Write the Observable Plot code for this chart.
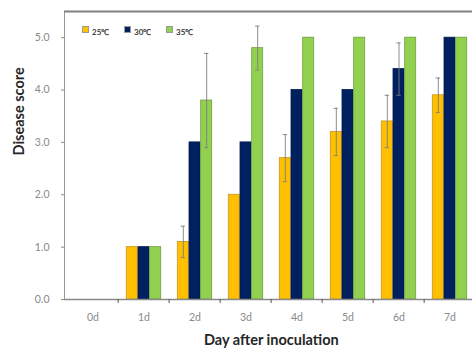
<!DOCTYPE html>
<html><head><meta charset="utf-8">
<script src="https://cdn.jsdelivr.net/npm/d3@7"></script>
<script src="https://cdn.jsdelivr.net/npm/@observablehq/plot@0.6"></script>
<style>
html,body{margin:0;padding:0;overflow:hidden;background:#fff}
#chart{position:relative;width:472px;height:349px;overflow:hidden}
#chart svg{max-width:none !important;height:349px !important}
#legend{position:absolute;left:82px;top:26px;display:flex;font:bold 8px Lato,sans-serif;color:#3a3a3a}
#legend .item{display:flex;align-items:center;width:42px}
#legend .sw{width:5px;height:5px;margin-right:3px;border:0.5px solid #999;position:relative;top:-2px}
</style></head>
<body><div id="chart"></div>
<script>
const days = ["0d","1d","2d","3d","4d","5d","6d","7d"];
const series = ["25℃","30℃","35℃"];
const v25 = [0, 1, 1.1, 2.0, 2.7, 3.2, 3.4, 3.9];
const v30 = [0, 1, 3.0, 3.0, 4.0, 4.0, 4.4, 5.0];
const v35 = [0, 1, 3.8, 4.8, 5.0, 5.0, 5.0, 5.0];
const e25 = [0, 0, 0.3, 0, 0.45, 0.45, 0.5, 0.33];
const e30 = [0, 0, 0, 0, 0, 0, 0.5, 0];
const e35 = [0, 0, 0.9, 0.42, 0, 0, 0, 0];
const yTicks = [0, 1, 2, 3, 4, 5];
const yMax = 5.5;
const xTitle = "Day after inoculation";
const yTitle = "Disease score";

const colors = ["#FFC000", "#002060", "#92D050"];
const strokes = ["#C8961E", "#001a4d", "#6E9E3C"];

const values = [v25, v30, v35];
const errs = [e25, e30, e35];
const rows = [];
series.forEach((s, i) => days.forEach((d, j) => rows.push({day: d, series: s, si: i, value: values[i][j], err: errs[i][j]})));

const W = 480, mL = 64, mR = 2.4;
const step = (W - mL - mR) / days.length;
const bw = 11.7;
const pad = (step - 3 * bw) / 2;

const marks = [];
series.forEach((s, i) => {
  const data = rows.filter(r => r.si === i);
  marks.push(Plot.barY(data, {x: "day", y: "value", fill: colors[i], stroke: strokes[i], strokeWidth: 0.8,
    insetLeft: pad + i * bw, insetRight: pad + (2 - i) * bw}));
});
series.forEach((s, i) => {
  const data = rows.filter(r => r.si === i && r.err > 0);
  const dx = (i - 1) * bw;
  marks.push(Plot.ruleX(data, {x: "day", y1: r => r.value - r.err, y2: r => r.value + r.err, dx, stroke: "#7f7f7f", strokeWidth: 0.9}));
  marks.push(Plot.tickY(data, {x: "day", y: r => r.value + r.err, dx, inset: (step - 5) / 2, stroke: "#7f7f7f", strokeWidth: 0.9}));
  marks.push(Plot.tickY(data, {x: "day", y: r => r.value - r.err, dx, inset: (step - 5) / 2, stroke: "#7f7f7f", strokeWidth: 0.9}));
});
marks.push(Plot.frame({stroke: "#9a9a9a", strokeWidth: 1}));
marks.push(Plot.ruleY([yMax], {stroke: "#808080", strokeWidth: 2}));
marks.push(Plot.ruleY([0], {stroke: "#8a8a8a", strokeWidth: 1.5}));
marks.push(Plot.ruleX(days.slice(1), {x: d => d, dx: -step / 2, y1: 0, y2: 0, insetBottom: -4, stroke: "#555"}));
marks.push(Plot.text([xTitle], {frameAnchor: "bottom", dy: 45, fontWeight: "bold", fontSize: 14.5, fill: "#262626"}));
marks.push(Plot.text([yTitle], {frameAnchor: "left", dx: -45, dy: 0, rotate: -90, fontWeight: "bold", fontSize: 14.5, fill: "#262626"}));

const chart = Plot.plot({
  width: W, height: 349,
  marginLeft: mL, marginRight: mR, marginTop: 11, marginBottom: 50,
  style: {fontFamily: "Lato, sans-serif", fontSize: "10.5px", color: "#8a8a8a", background: "#fff", maxWidth: "none"},
  x: {domain: days, padding: 0, tickSize: 0, tickPadding: 14, label: null},
  y: {domain: [0, yMax], ticks: yTicks, tickFormat: ".1f", tickSize: 3, tickPadding: 12, label: null},
  marks
});
const holder = document.getElementById("chart");
holder.appendChild(chart);

const legend = document.createElement("div");
legend.id = "legend";
series.forEach((s, i) => {
  const it = document.createElement("div");
  it.className = "item";
  const sw = document.createElement("span");
  sw.className = "sw";
  sw.style.background = colors[i];
  const t = document.createElement("span");
  t.textContent = s;
  it.appendChild(sw); it.appendChild(t);
  legend.appendChild(it);
});
holder.appendChild(legend);
</script>
</body></html>
